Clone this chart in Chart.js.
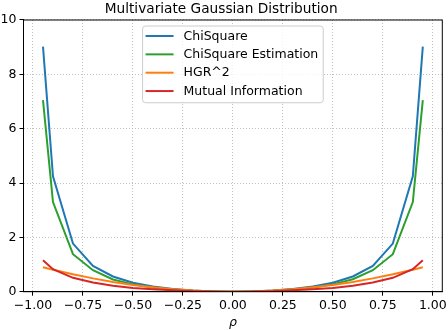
<!DOCTYPE html>
<html>
<head>
<meta charset="utf-8">
<script src="https://cdn.jsdelivr.net/npm/chart.js@4"></script>
<style>
  html, body { margin: 0; padding: 0; background: #fff; }
</style>
</head>
<body>
<canvas id="chart" width="448" height="330"></canvas>
<script>
// correlation values along the x axis
const rho = [-0.95, -0.9, -0.8, -0.7, -0.6, -0.5, -0.4, -0.3, -0.2, -0.1, 0,
             0.1, 0.2, 0.3, 0.4, 0.5, 0.6, 0.7, 0.8, 0.9, 0.95];

// series
const chiSquare = [9.02, 4.25, 1.77, 0.95, 0.56, 0.33, 0.19, 0.10, 0.04, 0.01, 0,
                   0.01, 0.04, 0.10, 0.19, 0.33, 0.56, 0.95, 1.77, 4.25, 9.02];
const chiSquareEst = [7.05, 3.30, 1.38, 0.79, 0.45, 0.27, 0.15, 0.08, 0.035, 0.01, 0,
                      0.01, 0.035, 0.08, 0.15, 0.27, 0.46, 0.79, 1.38, 3.30, 7.05];
const hgr2 = [0.90, 0.81, 0.64, 0.49, 0.36, 0.25, 0.16, 0.09, 0.04, 0.01, 0,
              0.01, 0.04, 0.09, 0.16, 0.25, 0.36, 0.49, 0.64, 0.81, 0.90];
const mutualInfo = [1.16, 0.83, 0.51, 0.34, 0.22, 0.14, 0.09, 0.05, 0.02, 0.005, 0,
                    0.005, 0.02, 0.05, 0.09, 0.14, 0.22, 0.34, 0.51, 0.83, 1.16];

// tick labels
const xTicks = [-1, -0.75, -0.5, -0.25, 0, 0.25, 0.5, 0.75, 1];
const yTicks = [0, 2, 4, 6, 8, 10];

const FONT = '"DejaVu Sans", "Liberation Sans", sans-serif';

function pts(ys) {
    return rho.map((x, i) => ({ x: x, y: ys[i] }));
}

// full frame (matplotlib spines) + legend box in the upper centre
const frameAndLegend = {
    id: 'frameAndLegend',
    afterDatasetsDraw(chart) {
        const ctx = chart.ctx;
        const a = chart.chartArea;
        ctx.save();
        ctx.strokeStyle = '#000';
        ctx.lineWidth = 1;
        ctx.strokeRect(a.left, a.top, a.right - a.left, a.bottom - a.top);

        // legend
        ctx.font = '12.5px ' + FONT;
        const items = chart.data.datasets;
        const textW = Math.max(...items.map(d => ctx.measureText(d.label).width));
        const w = 3 + 28 + 10 + textW + 5;
        const rowH = 18.35;
        const h = 10 + rowH * (items.length - 1) + 11.7;
        const left = (a.left + a.right) / 2 - w / 2;
        const top = a.top + 6;

        ctx.beginPath();
        ctx.roundRect(left, top, w, h, 3);
        ctx.fillStyle = 'rgba(255,255,255,0.8)';
        ctx.fill();
        ctx.strokeStyle = '#cccccc';
        ctx.lineWidth = 1;
        ctx.stroke();

        items.forEach((d, i) => {
            const y = top + 10 + i * rowH;
            ctx.beginPath();
            ctx.moveTo(left + 3, y);
            ctx.lineTo(left + 31, y);
            ctx.strokeStyle = d.borderColor;
            ctx.lineWidth = 2;
            ctx.stroke();
            ctx.fillStyle = '#000';
            ctx.textBaseline = 'middle';
            ctx.textAlign = 'left';
            ctx.fillText(d.label, left + 41, y + 0.5);
        });
        ctx.restore();
    }
};

const ctx = document.getElementById('chart').getContext('2d');
new Chart(ctx, {
    type: 'line',
    data: {
        datasets: [
            { label: 'ChiSquare', data: pts(chiSquare), borderColor: '#1f77b4', order: 3 },
            { label: 'ChiSquare Estimation', data: pts(chiSquareEst), borderColor: '#2ca02c', order: 2 },
            { label: 'HGR^2', data: pts(hgr2), borderColor: '#ff7f0e', order: 1 },
            { label: 'Mutual Information', data: pts(mutualInfo), borderColor: '#d62728', order: 0 }
        ]
    },
    options: {
        responsive: false,
        animation: false,
        devicePixelRatio: 1,
        layout: { padding: { left: 0, right: 5.7, top: 0, bottom: 0 } },
        elements: {
            line: { borderWidth: 2, tension: 0, fill: false },
            point: { radius: 0, hoverRadius: 0 }
        },
        scales: {
            x: {
                type: 'linear',
                min: -1.0475,
                max: 1.0475,
                afterBuildTicks: s => { s.ticks = xTicks.map(v => ({ value: v })); },
                afterFit: s => { s.height = 38.3; s.paddingLeft = 0; s.paddingRight = 0; },
                ticks: {
                    autoSkip: false,
                    maxRotation: 0,
                    padding: 3,
                    color: '#000',
                    font: { family: FONT, size: 12.5 },
                    callback: v => v.toFixed(2).replace('-', '\u2212')
                },
                grid: { color: '#b0b0b0', lineWidth: 0.8, tickColor: '#000', tickLength: 4, tickWidth: 1 },
                border: { display: true, color: '#000', width: 1, dash: [1, 2] },
                title: {
                    display: true,
                    text: 'ρ',
                    color: '#000',
                    padding: { top: 1, bottom: 0 },
                    font: { family: FONT, size: 12.5, style: 'italic' }
                }
            },
            y: {
                min: 0,
                max: 10,
                afterBuildTicks: s => { s.ticks = yTicks.map(v => ({ value: v })); },
                afterFit: s => { s.width = 23.5; s.paddingTop = 0; s.paddingBottom = 0; },
                ticks: {
                    padding: 3,
                    color: '#000',
                    font: { family: FONT, size: 12.5 }
                },
                grid: { color: '#b0b0b0', lineWidth: 0.8, tickColor: '#000', tickLength: 4, tickWidth: 1 },
                border: { display: true, color: '#000', width: 1, dash: [1, 2] }
            }
        },
        plugins: {
            legend: { display: false },
            tooltip: { enabled: false },
            title: {
                display: true,
                text: 'Multivariate Gaussian Distribution',
                color: '#000',
                font: { family: FONT, size: 13.7, weight: 'normal' },
                padding: { top: 1, bottom: 2.56 }
            }
        }
    },
    plugins: [frameAndLegend]
});
</script>
</body>
</html>
